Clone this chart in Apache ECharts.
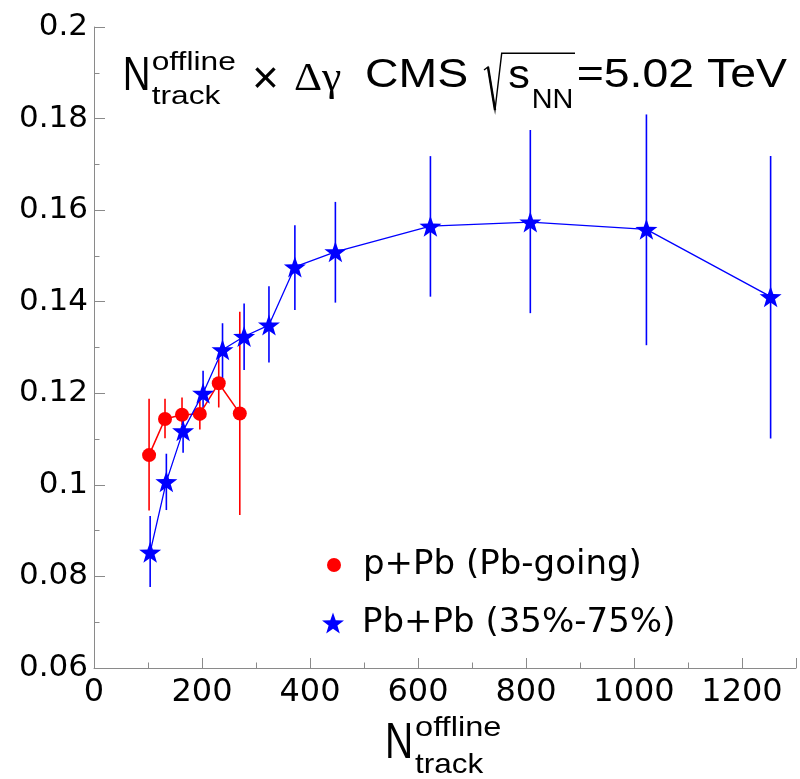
<!DOCTYPE html>
<html>
<head>
<meta charset="utf-8">
<script src="https://cdn.jsdelivr.net/npm/echarts@6/dist/echarts.min.js"></script>
<style>
  html, body { margin: 0; padding: 0; background: #fff; }
  #chart { width: 800px; height: 779px; }
</style>
</head>
<body>
<div id="chart"></div>
<script>
// ---- data ----
const ppbName = 'p+Pb (Pb-going)';
const ppbX  = [102, 131.5, 163, 196, 231, 270];
const ppbY  = [0.1065, 0.1144, 0.1153, 0.1155, 0.1222, 0.1156];
const ppbLo = [0.0944, 0.1102, 0.1131, 0.1121, 0.1169, 0.0934];
const ppbHi = [0.1188, 0.1188, 0.1191, 0.1192, 0.1276, 0.1378];

const pbpbName = 'Pb+Pb (35%-75%)';
const pbpbX  = [104, 134, 165, 202, 238, 278, 324, 372, 447, 623, 808, 1023, 1253];
const pbpbY  = [0.0853, 0.1007, 0.1118, 0.1200, 0.1295, 0.1324, 0.1349, 0.1476, 0.1509, 0.1565, 0.1574, 0.1558, 0.1411];
const pbpbLo = [0.0777, 0.0945, 0.1070, 0.1164, 0.1229, 0.1251, 0.1267, 0.1382, 0.1398, 0.1411, 0.1375, 0.1305, 0.1101];
const pbpbHi = [0.0932, 0.1068, 0.1142, 0.1249, 0.1353, 0.1396, 0.1434, 0.1567, 0.1618, 0.1718, 0.1775, 0.1809, 0.1718];

const xMin = 0, xMax = 1300, xStep = 200;
const yMin = 0.06, yMax = 0.2, yStep = 0.02;

// ---- styling ----
const RED = '#ff0000', BLUE = '#0000ff', AXIS = '#8a8a8a';
const STAR = 'path://M0,-10 L2.35,-3.24 L9.51,-3.09 L3.8,1.24 L5.88,8.09 L0,4 L-5.88,8.09 L-3.8,1.24 L-9.51,-3.09 L-2.35,-3.24 Z';

function pairs(xs, ys) { return xs.map((x, i) => [x, ys[i]]); }
function errs(xs, lo, hi) { return xs.map((x, i) => [x, lo[i], hi[i]]); }
function errSeries(name, data, color) {
  return {
    type: 'custom', name: name, z: 1, silent: true,
    data: data,
    encode: { x: 0, y: [1, 2] },
    renderItem: function (params, api) {
      const a = api.coord([api.value(0), api.value(1)]);
      const b = api.coord([api.value(0), api.value(2)]);
      return { type: 'line', shape: { x1: a[0], y1: a[1], x2: b[0], y2: b[1] },
               style: { stroke: color, lineWidth: 1.6 } };
    }
  };
}
function txt(s, x, y, size, sx, fam) {
  return { type: 'text', x: x, y: y, scaleX: sx || 1,
    style: { text: s, fontSize: size, fontFamily: fam || '"Liberation Sans"', fill: '#000',
             align: 'left', verticalAlign: 'middle' } };
}

const chart = echarts.init(document.getElementById('chart'), null, { renderer: 'canvas' });
chart.setOption({
  animation: false,
  backgroundColor: '#fff',
  grid: { left: 94, right: 4, top: 27, bottom: 111 },
  xAxis: {
    type: 'value', min: xMin, max: xMax, interval: xStep,
    axisLine: { show: true, onZero: false, lineStyle: { color: AXIS, width: 1 } },
    axisTick: { show: true, inside: true, length: 10, lineStyle: { color: AXIS } },
    minorTick: { show: true, splitNumber: 2, length: 5.5, lineStyle: { color: AXIS } },
    splitLine: { show: false },
    axisLabel: { show: true, showMaxLabel: false, margin: 9, color: '#000',
                 fontFamily: '"DejaVu Sans"', fontSize: 32, formatter: v => String(v) }
  },
  yAxis: {
    type: 'value', min: yMin, max: yMax, interval: yStep,
    axisLine: { show: true, onZero: false, lineStyle: { color: AXIS, width: 1 } },
    axisTick: { show: true, inside: true, length: 11, lineStyle: { color: AXIS } },
    minorTick: { show: true, splitNumber: 2, length: 5.5, lineStyle: { color: AXIS } },
    splitLine: { show: false },
    axisLabel: { margin: 6, color: '#000', fontFamily: '"DejaVu Sans"', fontSize: 31,
                 formatter: v => String(parseFloat(v.toFixed(3))) }
  },
  legend: [
    { data: [ppbName], orient: 'vertical', left: 327, top: 548, padding: 0,
      icon: 'circle', itemWidth: 14, itemHeight: 14,
      textStyle: { fontFamily: '"DejaVu Sans"', fontSize: 34, lineHeight: 34, color: '#000', padding: [0, 0, 0, 17] } },
    { data: [pbpbName], orient: 'vertical', left: 322, top: 606, padding: 0,
      icon: STAR, itemWidth: 22, itemHeight: 21,
      textStyle: { fontFamily: '"DejaVu Sans"', fontSize: 34, lineHeight: 34, color: '#000', padding: [0, 0, 0, 13] } }
  ],
  series: [
    errSeries('ppb-err', errs(ppbX, ppbLo, ppbHi), RED),
    errSeries('pbpb-err', errs(pbpbX, pbpbLo, pbpbHi), BLUE),
    { type: 'line', name: ppbName, z: 3, data: pairs(ppbX, ppbY),
      symbol: 'circle', symbolSize: 14, itemStyle: { color: RED },
      lineStyle: { color: RED, width: 1.5 } },
    { type: 'line', name: pbpbName, z: 4, data: pairs(pbpbX, pbpbY),
      symbol: STAR, symbolSize: [22, 21], itemStyle: { color: BLUE },
      lineStyle: { color: BLUE, width: 1.3 } }
  ],
  graphic: [
    // title
    txt('N', 122.7, 76.3, 48, 0.8),
    txt('offline', 151.7, 63.3, 26, 1.22),
    txt('track', 151.7, 96.6, 26, 1.22),
    txt('\u00d7', 252, 80, 46, 1.0),
    txt('\u0394\u03b3', 294, 80.2, 39, 1.12, '"Liberation Serif"'),
    txt('CMS', 365, 75.9, 40, 1.16),
    { type: 'polyline', shape: { points: [[484, 70], [488, 67], [495, 110], [501.7, 53.3], [575, 53.3]] },
      style: { stroke: '#000', lineWidth: 1.4, fill: null } },
    { type: 'line', shape: { x1: 488, y1: 67, x2: 495, y2: 110 }, style: { stroke: '#000', lineWidth: 2.4 } },
    txt('s', 508.3, 76.5, 40, 1.08),
    txt('NN', 531.7, 100, 28, 1.03),
    txt('=5.02 TeV', 576.7, 75.9, 40, 1.16),
    // x-axis title
    txt('N', 385, 743.9, 50, 0.78),
    txt('offline', 415, 728.8, 27.4, 1.19),
    txt('track', 415, 765.5, 27.4, 1.15)
  ]
});
</script>
</body>
</html>
